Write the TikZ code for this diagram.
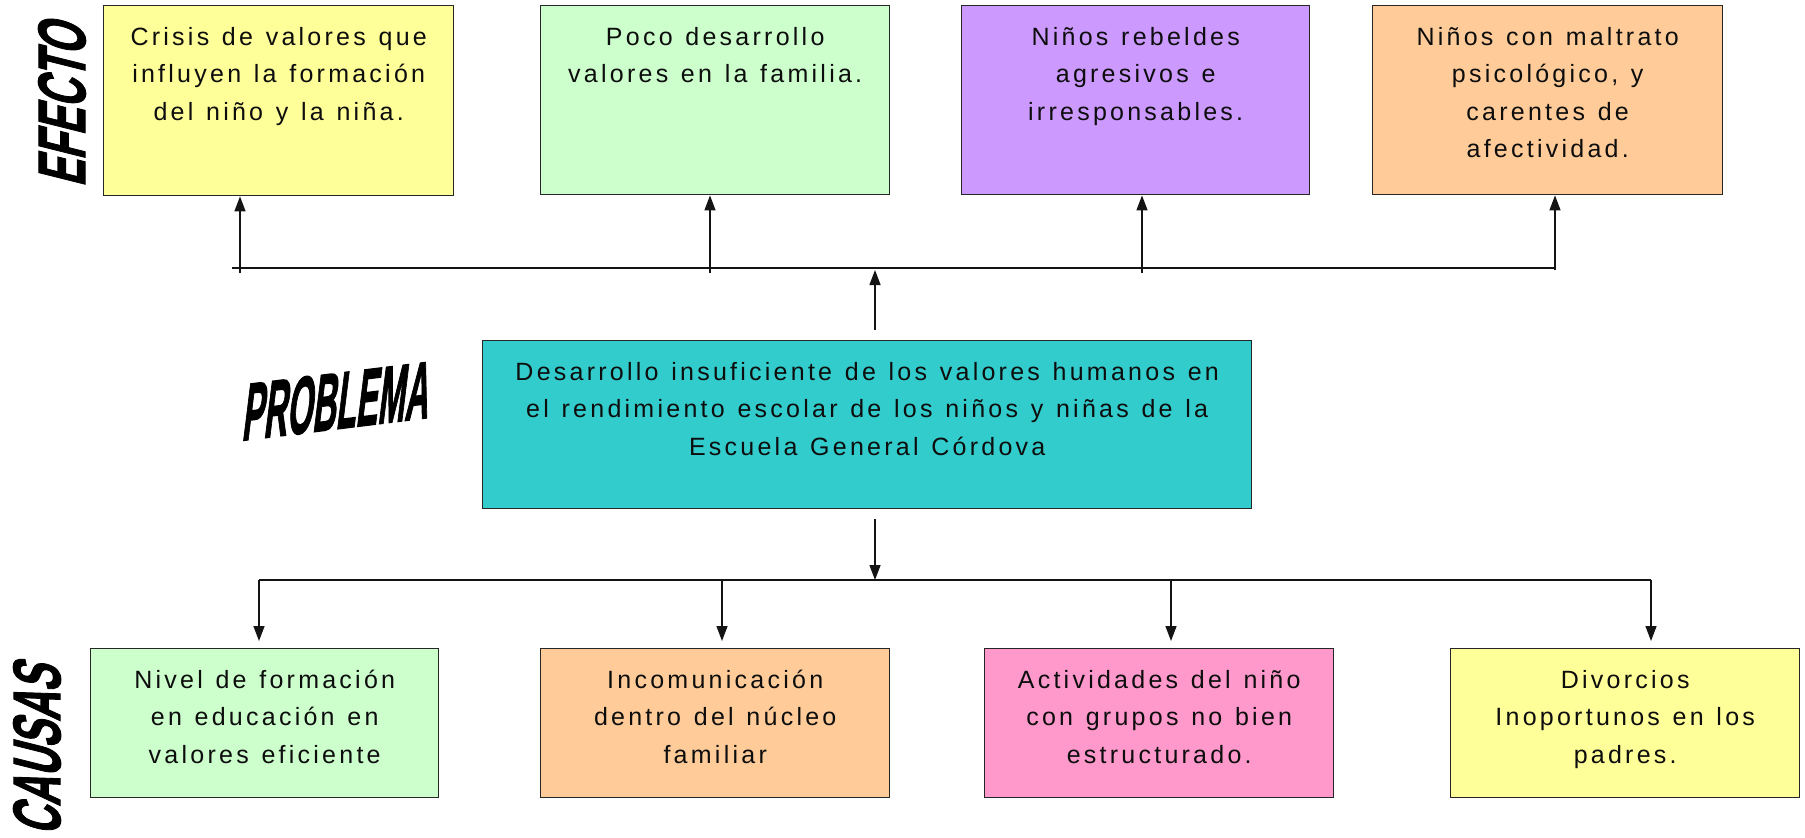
\documentclass[tikz,border=0pt]{standalone}
\usepackage{fontspec}
\setmainfont{Liberation Sans}
\newfontfamily\boxfont{Liberation Sans}[LetterSpace=13, WordSpace=1.25]
\newfontfamily\lblfont{Liberation Sans}[UprightFont={* Bold}, UprightFeatures={FakeBold=2}]
\usetikzlibrary{arrows.meta,calc}
\definecolor{cyel}{HTML}{FFFF99}
\definecolor{cgrn}{HTML}{CCFFCC}
\definecolor{cpur}{HTML}{CC99FF}
\definecolor{corg}{HTML}{FFCC99}
\definecolor{cteal}{HTML}{33CCCC}
\definecolor{cpink}{HTML}{FF99CC}
\newcommand\mkdbox[7]{%
  \node[box, fill=#6, minimum width={#4-#2}, minimum height={#5-#3}] (#1) at (#2,#3) {};
  \node[btext] (#1t) at ($(#1.north)+(0,15)$) {\rule{0pt}{25pt}#7};
}
\begin{document}
\begin{tikzpicture}[x=1pt,y=-1pt,
  box/.style={draw=black!85, line width=1.4pt, inner sep=0pt, anchor=north west},
  btext/.style={anchor=north, inner sep=0pt, align=center,
    font=\boxfont\fontsize{25}{37.5}\selectfont, text=black!95},
  conn/.style={line width=1.4pt, draw=black!92},
  arr/.style={conn, -{Triangle[length=15pt,width=11pt]}},
  lbl/.style={inner sep=0pt, text=black}
]
\useasboundingbox (0,0) rectangle (1805,838);
\fill[white] (0,0) rectangle (1805,838);

% effect boxes
\mkdbox{t1}{103}{5}{453}{195}{cyel}{Crisis de valores que\\influyen la formación\\del niño y la niña.}
\mkdbox{t2}{540}{5}{889}{194}{cgrn}{Poco desarrollo\\valores en la familia.}
\mkdbox{t3}{961}{5}{1309}{194}{cpur}{Niños rebeldes\\agresivos e\\irresponsables.}
\mkdbox{t4}{1372}{5}{1722}{194}{corg}{Niños con maltrato\\psicológico, y\\carentes de\\afectividad.}

% problem box
\mkdbox{pb}{482}{340}{1251}{508}{cteal}{Desarrollo insuficiente de los valores humanos en\\el rendimiento escolar de los niños y niñas de la\\Escuela General Córdova}

% cause boxes
\mkdbox{b1}{90}{648}{438}{797}{cgrn}{Nivel de formación\\en educación en\\valores eficiente}
\mkdbox{b2}{540}{648}{889}{797}{corg}{Incomunicación\\dentro del núcleo\\familiar}
\mkdbox{b3}{984}{648}{1333}{797}{cpink}{Actividades del niño\\con grupos no bien\\estructurado.}
\mkdbox{b4}{1450}{648}{1799}{797}{cyel}{Divorcios\\Inoportunos en los\\padres.}

% labels
\node[lbl, font=\lblfont\fontsize{67}{67}\selectfont, rotate=90, xslant=0.25] (efecto) at (62,100) {\scalebox{0.6}[1]{EFECTO}};
\node[lbl, font=\lblfont\fontsize{67}{67}\selectfont, rotate=90, xslant=0.25] (causas) at (37,745) {\scalebox{0.6}[1]{CAUSAS}};
\node[lbl, font=\lblfont\fontsize{80}{80}\selectfont, rotate=7, xslant=0.25] (problema) at (338,401) {\scalebox{0.41}[1]{PROBLEMA}};

% top connectors
\coordinate (tL) at (232,268);
\coordinate (tR) at (1555,268);
\draw[conn] (tL) -- (tR);
\coordinate (a1) at (240,273);
\coordinate (a2) at (710,273);
\coordinate (a3) at (1142,273);
\coordinate (a4) at (1555,270);
\draw[arr] (a1) -- (a1 |- t1.south);
\draw[arr] (a2) -- (a2 |- t2.south);
\draw[arr] (a3) -- (a3 |- t3.south);
\draw[arr] (a4) -- (a4 |- t4.south);

% center arrows
\coordinate (cu) at (875,330);
\coordinate (cut) at (875,270);
\draw[arr] (cu) -- (cut);
\coordinate (cd) at (875,519);
\coordinate (bL) at (259,580);
\coordinate (bR) at (1651,580);
\draw[arr] (cd) -- (cd |- bL);
\draw[conn] (bL) -- (bR);

% bottom arrows
\coordinate (d1) at (259,580);
\coordinate (d2) at (722,580);
\coordinate (d3) at (1171,580);
\coordinate (d4) at (1651,580);
\draw[arr] (d1) -- ([yshift=7pt]d1 |- b1.north);
\draw[arr] (d2) -- ([yshift=7pt]d2 |- b2.north);
\draw[arr] (d3) -- ([yshift=7pt]d3 |- b3.north);
\draw[arr] (d4) -- ([yshift=7pt]d4 |- b4.north);
\end{tikzpicture}
\end{document}
